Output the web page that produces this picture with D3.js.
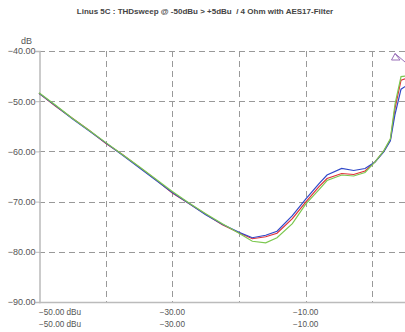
<!DOCTYPE html>
<html><head><meta charset="utf-8">
<script src="https://cdn.jsdelivr.net/npm/d3@7"></script>
<style>body{margin:0;background:#fff}svg{display:block;font-family:"Liberation Sans",Arial,sans-serif}</style>
</head><body><svg id="c" width="405" height="332"></svg>
<script>
const title = "Linus 5C : THDsweep @ -50dBu > +5dBu  / 4 Ohm with AES17-Filter";
const levels = [-50,-47.5,-45,-42.5,-40,-37.5,-35,-32.5,-30,-27.5,-25,-22.5,-20,-18,-16,-14.3,-12,-10,-8,-6.8,-4.6,-2.8,-1.1,0.4,1.7,2.7,3.4,4.3,5];
const blueVals  = [-48.4,-50.9,-53.5,-55.9,-58.3,-60.7,-63.2,-65.7,-68.2,-70.4,-72.6,-74.5,-76.1,-77.2,-76.7,-75.9,-72.8,-69.5,-66.4,-64.7,-63.4,-63.8,-63.4,-62.1,-60.1,-57.9,-52.6,-47.6,-47.0];
const redVals   = [-48.4,-51.0,-53.4,-55.8,-58.4,-60.6,-63.1,-65.6,-68.3,-70.4,-72.5,-74.6,-76.2,-77.4,-77.0,-76.3,-73.4,-70.1,-67.0,-65.4,-64.4,-64.6,-63.9,-62.1,-60.0,-57.7,-51.4,-45.8,-45.5];
const greenVals = [-48.3,-50.8,-53.4,-55.8,-58.2,-60.6,-63.0,-65.5,-68.0,-70.3,-72.4,-74.4,-76.3,-77.9,-78.2,-77.2,-74.4,-70.5,-67.6,-65.8,-64.7,-64.9,-64.2,-62.1,-59.9,-57.5,-50.6,-45.1,-45.0];
const yTicks = [-40,-50,-60,-70,-80,-90];
const xGrid = [-40,-30,-20,-10,0];
const xLabels = [-50,-30,-10];

const svg = d3.select("#c");
const x = d3.scaleLinear().domain([-50,5]).range([39,405.7]);
const y = d3.scaleLinear().domain([-90,-40]).range([302,51]);

svg.append("text").attr("x",205).attr("y",14).attr("text-anchor","middle")
  .style("white-space","pre")
  .attr("font-size",8).attr("font-weight","bold").attr("fill","#444").text(title);

const grid = svg.append("g").attr("stroke","#999").attr("stroke-width",1).attr("stroke-dasharray","6,4");
grid.selectAll("line.h").data(yTicks.filter(d=>d>-90)).join("line")
  .attr("x1",39).attr("x2",405).attr("y1",d=>Math.round(y(d))+0.5).attr("y2",d=>Math.round(y(d))+0.5);
grid.selectAll("line.v").data(xGrid).join("line")
  .attr("y1",51).attr("y2",302).attr("x1",d=>Math.round(x(d))+0.5).attr("x2",d=>Math.round(x(d))+0.5);

// axes
const yAxis = d3.axisLeft(y).tickValues(yTicks).tickSize(4).tickFormat(d3.format(".2f"));
const gy = svg.append("g").attr("transform","translate(39.5,0)").call(yAxis);
gy.select(".domain").attr("stroke","#bbb").attr("stroke-width",1.5);
gy.selectAll(".tick line").attr("stroke","#bbb");
gy.selectAll(".tick text").attr("fill","#555").attr("font-size",9).attr("font-family","Liberation Sans, Arial, sans-serif").attr("x",-4);
svg.append("text").attr("x",32).attr("y",44).attr("text-anchor","end").attr("font-size",9).attr("fill","#555").text("dB");

svg.append("line").attr("x1",39).attr("x2",405).attr("y1",302.5).attr("y2",302.5).attr("stroke","#bbb").attr("stroke-width",1.5);

const xl = svg.append("g").attr("font-size",8.2).attr("fill","#555");
xLabels.forEach((v,i)=>{
  const lab = d3.format(".2f")(v) + (i===0?" dBu":"");
  [315,327].forEach(yy=>{
    xl.append("text").attr("x", x(v)).attr("y",yy)
      .attr("text-anchor", i===0?"start":"middle").text(lab);
  });
});

const line = d3.line().x((d,i)=>x(levels[i])).y(d=>y(d));
[[redVals,"#e0303a"],[blueVals,"#3048c8"],[greenVals,"#7cc850"]].forEach(([vals,col])=>{
  svg.append("path").datum(vals).attr("d",line).attr("fill","none").attr("stroke",col).attr("stroke-width",1.2);
});

// marker triangle
svg.append("path").attr("d","M395,53.5 L391.5,60 L400,60 Z M395,53.5 L405,62")
  .attr("fill","none").attr("stroke","#9a70b8").attr("stroke-width",1);
</script></body></html>
